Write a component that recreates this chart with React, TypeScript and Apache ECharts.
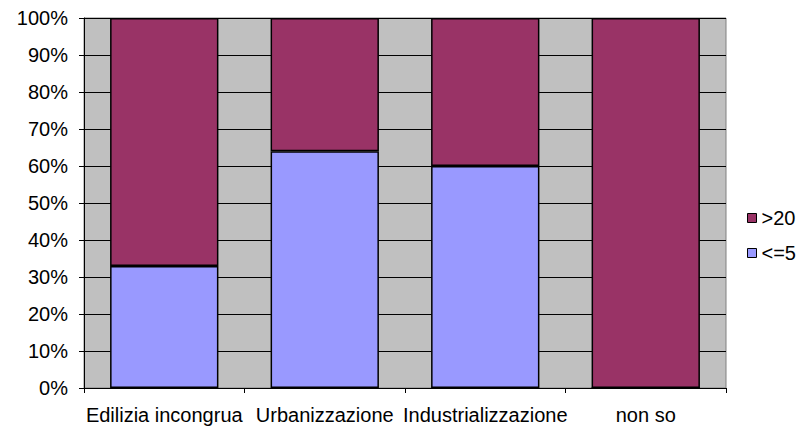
import React, { useEffect, useRef } from "react";
import * as echarts from "echarts";

// Share of responses per category, in percent
const categories = ["Edilizia incongrua", "Urbanizzazione", "Industrializzazione", "non so"];
const lowShare = [33, 64, 60, 0]; // <=5
const highShare = [67, 36, 40, 100]; // >20
const yTicks = [0, 10, 20, 30, 40, 50, 60, 70, 80, 90, 100];

const FONT = "'Liberation Sans', Arial, sans-serif";
const FONT_SIZE = 20;

export default function App() {
  const ref = useRef<HTMLDivElement>(null);

  useEffect(() => {
    if (!ref.current) return;
    const chart = echarts.init(ref.current, undefined, { renderer: "svg" });
    chart.setOption({
      animation: false,
      backgroundColor: "#ffffff",
      textStyle: { fontFamily: FONT },
      grid: {
        left: 84,
        top: 18,
        width: 642,
        height: 370,
        show: true,
        backgroundColor: "#C0C0C0",
        borderColor: "#808080",
        borderWidth: 1,
      },
      legend: {
        orient: "vertical",
        left: 742,
        top: 203,
        data: [">20", "<=5"],
        icon: "rect",
        itemWidth: 9,
        itemHeight: 9,
        itemGap: 15,
        itemStyle: { borderColor: "#000000", borderWidth: 1 },
        textStyle: { fontFamily: FONT, fontSize: FONT_SIZE, lineHeight: 20, color: "#000000" },
      },
      xAxis: {
        type: "category",
        data: categories,
        axisLine: { lineStyle: { color: "#000000", width: 1 } },
        axisTick: { show: true, length: 5, interval: 0, lineStyle: { color: "#000000" } },
        axisLabel: { fontFamily: FONT, fontSize: FONT_SIZE, lineHeight: 20, color: "#000000", margin: 17, interval: 0 },
        splitLine: { show: false },
      },
      yAxis: {
        type: "value",
        min: 0,
        max: 100,
        interval: 10,
        axisLine: { show: true, lineStyle: { color: "#000000", width: 1 } },
        axisTick: { show: true, length: 5, lineStyle: { color: "#000000" } },
        axisLabel: {
          fontFamily: FONT,
          fontSize: FONT_SIZE,
          color: "#000000",
          margin: 16,
          formatter: (v: number) => (yTicks.includes(v) ? `${v}%` : ""),
        },
        splitLine: { show: true, lineStyle: { color: "#000000", width: 1 } },
      },
      series: [
        {
          name: "<=5",
          type: "bar",
          stack: "total",
          barWidth: "67.5%",
          data: lowShare,
          itemStyle: { color: "#9999FF", borderColor: "#000000", borderWidth: 1.5 },
        },
        {
          name: ">20",
          type: "bar",
          stack: "total",
          barWidth: "67.5%",
          data: highShare,
          itemStyle: { color: "#993366", borderColor: "#000000", borderWidth: 1.5 },
        },
      ],
    });
    return () => chart.dispose();
  }, []);

  return (
    <div
      ref={ref}
      style={{ position: "absolute", left: 0, top: 0, width: 807, height: 428 }}
    />
  );
}
